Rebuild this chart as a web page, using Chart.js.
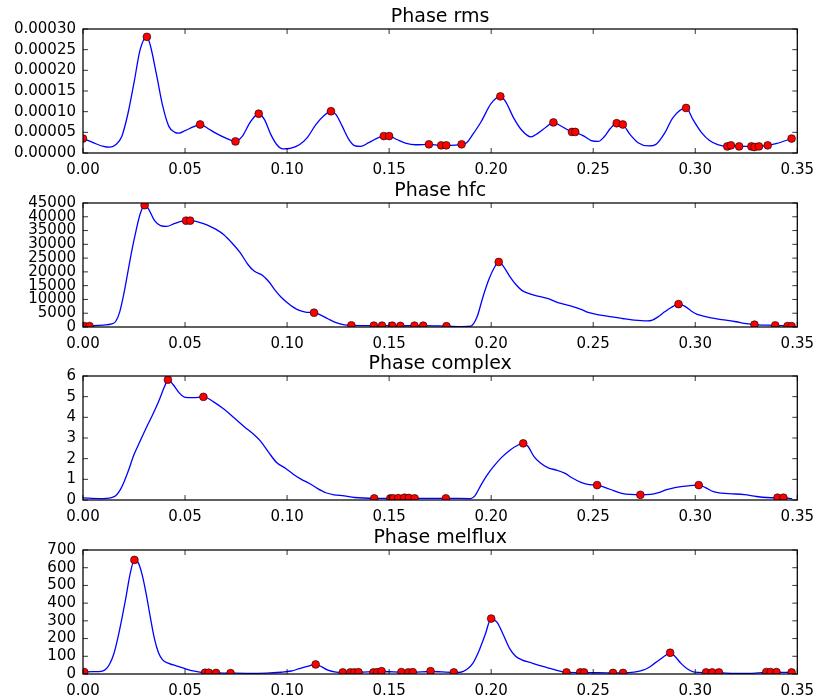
<!DOCTYPE html>
<html>
<head>
<meta charset="utf-8">
<script src="https://cdn.jsdelivr.net/npm/chart.js@4"></script>
<style>
  html, body { margin: 0; background: #fff; overflow: hidden; }
  #wrap { position: relative; width: 822px; height: 696px; overflow: hidden; }
  #wrap canvas { position: absolute; left: 0; }
</style>
</head>
<body>
<div id="wrap">
  <canvas id="rms" width="822" height="190" style="top:0px"></canvas>
  <canvas id="hfc" width="822" height="190" style="top:174px"></canvas>
  <canvas id="complex" width="822" height="190" style="top:347px"></canvas>
  <canvas id="melflux" width="822" height="190" style="top:521px"></canvas>
</div>
<script>
// ---- tick labels ----
const xTicks = [0, 0.05, 0.1, 0.15, 0.2, 0.25, 0.3, 0.35];
const rmsTicks = [0, 0.00005, 0.0001, 0.00015, 0.0002, 0.00025, 0.0003];
const hfcTicks = [0, 5000, 10000, 15000, 20000, 25000, 30000, 35000, 40000, 45000];
const complexTicks = [0, 1, 2, 3, 4, 5, 6];
const melfluxTicks = [0, 100, 200, 300, 400, 500, 600, 700];

// ---- Phase rms: curve [time, value] and detected onsets ----
const rmsCurve = [
  [0, 3.5e-5], [0.005, 2.5e-5], [0.01, 1.6e-5], [0.013, 1.4e-5], [0.016, 2.0e-5],
  [0.019, 4.0e-5], [0.022, 9.5e-5], [0.025, 17e-5], [0.028, 25e-5], [0.0313, 28.1e-5],
  [0.033, 26e-5], [0.036, 19e-5], [0.039, 11.5e-5], [0.042, 6.5e-5], [0.045, 5.0e-5],
  [0.047, 4.8e-5], [0.05, 5.4e-5], [0.054, 6.3e-5], [0.0574, 6.9e-5], [0.061, 6.0e-5],
  [0.065, 4.8e-5], [0.07, 3.6e-5], [0.0747, 2.8e-5], [0.078, 4.0e-5], [0.082, 7.5e-5],
  [0.0861, 9.5e-5], [0.089, 8.0e-5], [0.092, 4.5e-5], [0.095, 2.0e-5], [0.098, 1.0e-5],
  [0.102, 1.2e-5], [0.106, 2.0e-5], [0.11, 3.8e-5], [0.114, 6.8e-5], [0.118, 9.0e-5],
  [0.1215, 10.1e-5], [0.124, 9.3e-5], [0.127, 6.5e-5], [0.13, 3.5e-5], [0.133, 1.8e-5],
  [0.136, 1.6e-5], [0.14, 2.5e-5], [0.1474, 4.1e-5], [0.15, 4.1e-5], [0.154, 3.2e-5],
  [0.158, 2.4e-5], [0.163, 2.0e-5], [0.1695, 2.1e-5], [0.1755, 1.85e-5], [0.178, 1.85e-5],
  [0.1855, 2.1e-5], [0.188, 2.5e-5], [0.191, 4.5e-5], [0.195, 7.5e-5], [0.2, 12e-5],
  [0.2045, 13.7e-5], [0.207, 12.5e-5], [0.211, 8.5e-5], [0.215, 5.5e-5], [0.2195, 3.9e-5],
  [0.223, 4.8e-5], [0.227, 6.3e-5], [0.2305, 7.4e-5], [0.234, 6.6e-5], [0.2396, 5.1e-5],
  [0.2412, 5.0e-5], [0.245, 4.2e-5], [0.249, 3.0e-5], [0.2525, 2.8e-5], [0.2555, 4.0e-5],
  [0.2585, 6.0e-5], [0.2615, 7.2e-5], [0.2645, 6.9e-5], [0.268, 4.5e-5], [0.272, 2.5e-5],
  [0.277, 1.7e-5], [0.281, 2.2e-5], [0.285, 4.8e-5], [0.289, 8.5e-5], [0.2955, 10.9e-5],
  [0.299, 8.0e-5], [0.303, 5.0e-5], [0.307, 3.0e-5], [0.311, 2.0e-5], [0.3157, 1.6e-5],
  [0.3175, 1.8e-5], [0.3215, 1.6e-5], [0.3275, 1.6e-5], [0.329, 1.5e-5], [0.3312, 1.6e-5],
  [0.3355, 1.85e-5], [0.34, 2.3e-5], [0.3472, 3.5e-5]
];
const rmsOnsets = [
  [0, 3.5e-5], [0.0313, 28.1e-5], [0.0574, 6.9e-5], [0.0747, 2.8e-5], [0.0861, 9.5e-5],
  [0.1215, 10.1e-5], [0.1474, 4.1e-5], [0.15, 4.1e-5], [0.1695, 2.1e-5], [0.1755, 1.85e-5],
  [0.178, 1.85e-5], [0.1855, 2.1e-5], [0.2045, 13.7e-5], [0.2305, 7.4e-5], [0.2396, 5.1e-5],
  [0.2412, 5.1e-5], [0.2615, 7.2e-5], [0.2645, 6.9e-5], [0.2955, 10.9e-5], [0.3157, 1.6e-5],
  [0.3175, 1.85e-5], [0.3215, 1.6e-5], [0.3275, 1.6e-5], [0.329, 1.45e-5], [0.3312, 1.6e-5],
  [0.3355, 1.85e-5], [0.3472, 3.5e-5]
];

// ---- Phase hfc ----
const hfcCurve = [
  [0, 300], [0.0032, 400], [0.01, 700], [0.014, 1100], [0.016, 2000], [0.018, 5500],
  [0.02, 12000], [0.022, 20000], [0.024, 28000], [0.026, 35000], [0.028, 41000],
  [0.0302, 44200], [0.032, 43000], [0.035, 38700], [0.038, 36800], [0.041, 36500],
  [0.045, 37600], [0.0505, 38600], [0.0525, 38600], [0.057, 38000], [0.061, 37000],
  [0.065, 35500], [0.069, 33500], [0.073, 30500], [0.077, 27000], [0.081, 22500],
  [0.084, 20200], [0.088, 18700], [0.091, 16500], [0.094, 13500], [0.097, 10900],
  [0.1, 8900], [0.103, 7200], [0.106, 6000], [0.109, 5400], [0.1132, 5200], [0.116, 4500],
  [0.12, 3000], [0.124, 1600], [0.128, 800], [0.1315, 600], [0.1425, 500], [0.1465, 500],
  [0.1515, 500], [0.1555, 400], [0.1624, 500], [0.1667, 500], [0.1781, 300], [0.186, 150],
  [0.19, 300], [0.193, 3500], [0.196, 11000], [0.199, 17500], [0.2015, 21500],
  [0.2037, 23600], [0.206, 22000], [0.209, 18500], [0.212, 15500], [0.215, 13300],
  [0.219, 12000], [0.224, 11000], [0.228, 10300], [0.232, 9000], [0.236, 8200],
  [0.24, 7400], [0.244, 6400], [0.248, 5200], [0.252, 4500], [0.256, 4000], [0.26, 3600],
  [0.265, 3000], [0.27, 2500], [0.2765, 2200], [0.279, 2500], [0.282, 3800], [0.285, 5500],
  [0.288, 7000], [0.2918, 8300], [0.295, 7500], [0.298, 5800], [0.301, 4600], [0.305, 3800],
  [0.31, 3000], [0.315, 2500], [0.32, 1900], [0.325, 1200], [0.329, 850], [0.3392, 600],
  [0.3452, 350], [0.3472, 300]
];
const hfcOnsets = [
  [0.0006, 350], [0.0032, 350], [0.0302, 44200], [0.0505, 38600], [0.0525, 38600],
  [0.1132, 5200], [0.1315, 600], [0.1425, 500], [0.1465, 500], [0.1515, 500], [0.1555, 400],
  [0.1624, 500], [0.1667, 500], [0.1781, 300], [0.2037, 23600], [0.2918, 8300], [0.329, 850],
  [0.3392, 600], [0.3452, 350], [0.3472, 300]
];

// ---- Phase complex ----
const complexCurve = [
  [0, 0.1], [0.008, 0.07], [0.014, 0.12], [0.016, 0.2], [0.018, 0.45], [0.02, 0.85],
  [0.022, 1.35], [0.025, 2.2], [0.028, 2.85], [0.031, 3.5], [0.034, 4.1], [0.037, 4.75],
  [0.04, 5.5], [0.0416, 5.82], [0.044, 5.6], [0.047, 5.2], [0.05, 4.97], [0.054, 4.95],
  [0.059, 4.99], [0.064, 4.75], [0.069, 4.4], [0.074, 3.98], [0.079, 3.55], [0.084, 3.15],
  [0.087, 2.85], [0.091, 2.3], [0.095, 1.8], [0.099, 1.55], [0.103, 1.25], [0.107, 1.0],
  [0.111, 0.8], [0.115, 0.55], [0.119, 0.35], [0.123, 0.25], [0.128, 0.2], [0.133, 0.12],
  [0.1427, 0.08], [0.1506, 0.08], [0.1545, 0.09], [0.1575, 0.11], [0.1597, 0.1],
  [0.1625, 0.08], [0.1778, 0.08], [0.19, 0.07], [0.192, 0.2], [0.195, 0.72], [0.198, 1.2],
  [0.201, 1.6], [0.205, 2.05], [0.209, 2.4], [0.213, 2.65], [0.2157, 2.74], [0.218, 2.6],
  [0.221, 2.1], [0.224, 1.8], [0.228, 1.55], [0.232, 1.45], [0.236, 1.3], [0.24, 1.05],
  [0.244, 0.85], [0.248, 0.74], [0.2519, 0.72], [0.256, 0.6], [0.26, 0.45], [0.264, 0.32],
  [0.2731, 0.25], [0.278, 0.27], [0.282, 0.36], [0.286, 0.5], [0.29, 0.6], [0.295, 0.67],
  [0.3017, 0.72], [0.305, 0.6], [0.309, 0.4], [0.313, 0.33], [0.318, 0.3], [0.324, 0.26],
  [0.33, 0.17], [0.335, 0.12], [0.3403, 0.11], [0.3432, 0.11], [0.3475, 0.05]
];
const complexOnsets = [
  [0.0416, 5.82], [0.059, 4.99], [0.1427, 0.08], [0.1506, 0.08], [0.152, 0.08],
  [0.1545, 0.09], [0.1575, 0.11], [0.1597, 0.1], [0.1625, 0.08], [0.1778, 0.08],
  [0.2157, 2.74], [0.2519, 0.72], [0.2731, 0.25], [0.3017, 0.72], [0.3403, 0.11],
  [0.3432, 0.11]
];

// ---- Phase melflux ----
const melfluxCurve = [
  [0, 11], [0.005, 13], [0.009, 15], [0.011, 25], [0.013, 55], [0.015, 110], [0.017, 200],
  [0.019, 310], [0.021, 430], [0.023, 560], [0.0252, 644], [0.027, 630], [0.029, 560],
  [0.031, 450], [0.033, 320], [0.035, 200], [0.037, 120], [0.039, 80], [0.042, 60],
  [0.046, 45], [0.05, 30], [0.054, 17], [0.0598, 7], [0.0652, 6], [0.0723, 5], [0.08, 4],
  [0.09, 5], [0.097, 10], [0.102, 17], [0.106, 30], [0.11, 43], [0.114, 54], [0.117, 40],
  [0.12, 22], [0.124, 11], [0.1273, 9], [0.135, 10], [0.1463, 14], [0.156, 11],
  [0.1616, 10], [0.1703, 14], [0.1817, 9], [0.185, 10], [0.188, 25], [0.191, 60],
  [0.194, 130], [0.197, 220], [0.2, 313], [0.203, 290], [0.206, 220], [0.209, 145],
  [0.212, 100], [0.215, 80], [0.219, 65], [0.223, 50], [0.227, 38], [0.231, 25],
  [0.2369, 9], [0.2455, 8], [0.2597, 6], [0.2646, 6], [0.27, 10], [0.274, 20], [0.277, 35],
  [0.28, 60], [0.283, 85], [0.286, 110], [0.2877, 120], [0.29, 100], [0.293, 60],
  [0.296, 30], [0.299, 12], [0.3053, 8], [0.3116, 7], [0.32, 3], [0.328, 4], [0.3348, 9],
  [0.3398, 9], [0.3472, 9]
];
const melfluxOnsets = [
  [0.0006, 11], [0.0252, 644], [0.0598, 7], [0.0616, 7], [0.0652, 6], [0.0723, 5],
  [0.114, 54], [0.1273, 9], [0.131, 9], [0.1329, 9], [0.135, 10], [0.1423, 9], [0.1442, 10],
  [0.1463, 16], [0.156, 11], [0.1594, 9], [0.1616, 10], [0.1703, 16], [0.1817, 9],
  [0.2, 313], [0.2369, 9], [0.2436, 9], [0.2455, 9], [0.2597, 6], [0.2646, 6],
  [0.2877, 120], [0.3053, 9], [0.3083, 9], [0.3116, 9], [0.3348, 11], [0.3369, 11],
  [0.3398, 11], [0.3472, 9]
];

// =======================================
// frame + inward ticks (matplotlib classic look)
// =======================================
const framePlugin = {
  id: 'frame',
  afterDraw(chart) {
    const { ctx, chartArea: a, scales } = chart;
    const x = scales.x, y = scales.y;
    const len = 5;
    ctx.save();
    ctx.strokeStyle = '#000';
    ctx.lineWidth = 0.8;
    ctx.beginPath();
    x.ticks.forEach((t) => {
      const px = x.getPixelForValue(t.value);
      ctx.moveTo(px, a.bottom); ctx.lineTo(px, a.bottom - len);
      ctx.moveTo(px, a.top); ctx.lineTo(px, a.top + len);
    });
    y.ticks.forEach((t) => {
      const py = y.getPixelForValue(t.value);
      ctx.moveTo(a.left, py); ctx.lineTo(a.left + len, py);
      ctx.moveTo(a.right, py); ctx.lineTo(a.right - len, py);
    });
    ctx.stroke();
    ctx.lineWidth = 1.25;
    ctx.strokeRect(a.left, a.top, a.right - a.left, a.bottom - a.top);
    ctx.restore();
  },
};

const FONT = 'DejaVu Sans';
const toPoints = (arr) => arr.map(([x, y]) => ({ x, y }));

function makePanel(id, title, curve, onsets, yTicks, decimals) {
  return new Chart(document.getElementById(id), {
    type: 'scatter',
    data: {
      datasets: [
        {
          data: toPoints(onsets),
          pointRadius: 3.9,
          pointBackgroundColor: '#ff0000',
          pointBorderColor: '#000',
          pointBorderWidth: 0.6,
          clip: 0,
          order: 0,
        },
        {
          data: toPoints(curve),
          showLine: true,
          pointRadius: 0,
          borderColor: '#0000ff',
          borderWidth: 1.3,
          cubicInterpolationMode: 'monotone',
          clip: 0,
          order: 1,
        },
      ],
    },
    options: {
      responsive: false,
      devicePixelRatio: 1,
      animation: false,
      events: [],
      layout: { padding: { left: 0, right: 17, top: 0, bottom: 0 } },
      plugins: {
        legend: { display: false },
        tooltip: { enabled: false },
        title: {
          display: true,
          text: title,
          fullSize: false,
          color: '#000',
          font: { family: FONT, size: 19, weight: 'normal' },
          padding: { top: 6, bottom: 0.2 },
        },
      },
      scales: {
        x: {
          type: 'linear',
          min: 0,
          max: 0.35,
          afterBuildTicks: (s) => { s.ticks = xTicks.map((v) => ({ value: v })); },
          afterFit: (s) => { s.height = 37; },
          grid: { display: false, drawTicks: false },
          border: { display: false },
          ticks: {
            autoSkip: false,
            maxRotation: 0,
            padding: 8,
            color: '#000',
            font: { family: FONT, size: 15 },
            callback: (v) => v.toFixed(2),
          },
        },
        y: {
          type: 'linear',
          min: yTicks[0],
          max: yTicks[yTicks.length - 1],
          afterBuildTicks: (s) => { s.ticks = yTicks.map((v) => ({ value: v })); },
          afterFit: (s) => { s.width = 83; },
          grid: { display: false, drawTicks: false },
          border: { display: false },
          ticks: {
            autoSkip: false,
            padding: 7,
            color: '#000',
            font: { family: FONT, size: 15 },
            callback: (v) => v.toFixed(decimals),
          },
        },
      },
    },
    plugins: [framePlugin],
  });
}

makePanel('rms', 'Phase rms', rmsCurve, rmsOnsets, rmsTicks, 5);
makePanel('hfc', 'Phase hfc', hfcCurve, hfcOnsets, hfcTicks, 0);
makePanel('complex', 'Phase complex', complexCurve, complexOnsets, complexTicks, 0);
makePanel('melflux', 'Phase melflux', melfluxCurve, melfluxOnsets, melfluxTicks, 0);
</script>
</body>
</html>
